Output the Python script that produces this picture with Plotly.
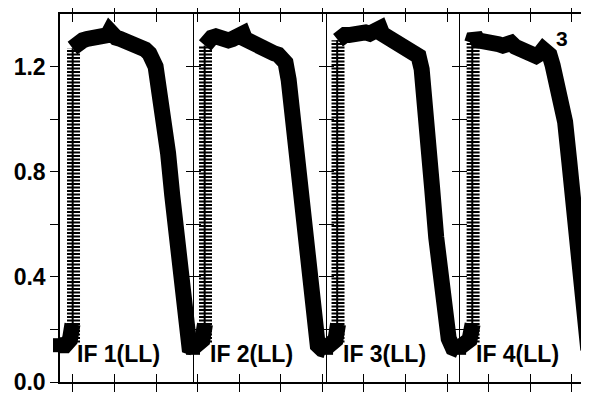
import plotly.graph_objects as go

# ---- data (local channel within each IF, amplitude) ----
if_labels = ["IF 1(LL)", "IF 2(LL)", "IF 3(LL)", "IF 4(LL)"]
n_chan = 128

if1_chan = [0, 5, 9.5, 12, None, 12, 14, 18, 22, 26, 30, 34, 38, 42, 46, 48, 50, 54, 58, 62, 66, 70, 74, 78, 82, 86, 89, 92, 96, 100, 104, 108, 112, 116, 119, 121.5, 124.5, 128]
if1_amp = [0.14, 0.14, 0.16, 0.22, None, 1.27, 1.28, 1.29, 1.30, 1.305, 1.31, 1.31, 1.315, 1.31, 1.32, 1.335, 1.32, 1.31, 1.305, 1.30, 1.29, 1.285, 1.28, 1.275, 1.265, 1.25, 1.23, 1.20, 1.09, 1.00, 0.87, 0.71, 0.56, 0.38, 0.25, 0.17, 0.135, 0.13]

if2_chan = [0, 5, 9, 11.5, None, 11.5, 14, 18, 22, 26, 30, 34, 38, 42, 46, 48, 50, 54, 58, 62, 66, 70, 74, 78, 82, 86, 89, 92, 96, 100, 104, 108, 112, 116, 120, 124, 128]
if2_amp = [0.13, 0.14, 0.16, 0.22, None, 1.28, 1.30, 1.31, 1.315, 1.305, 1.30, 1.30, 1.305, 1.31, 1.315, 1.325, 1.305, 1.295, 1.285, 1.28, 1.27, 1.265, 1.255, 1.25, 1.245, 1.235, 1.215, 1.15, 1.01, 0.85, 0.70, 0.54, 0.39, 0.205, 0.14, 0.125, 0.12]

if3_chan = [0, 5, 9, 11.5, None, 11.5, 14, 18, 22, 26, 30, 34, 38, 42, 46, 50, 52, 54, 58, 62, 66, 70, 74, 78, 82, 86, 89, 92, 95, 98, 102, 106, 110, 114, 118, 122, 128]
if3_amp = [0.13, 0.14, 0.16, 0.22, None, 1.30, 1.315, 1.32, 1.32, 1.325, 1.32, 1.325, 1.33, 1.325, 1.33, 1.335, 1.345, 1.325, 1.315, 1.30, 1.295, 1.285, 1.28, 1.275, 1.265, 1.255, 1.24, 1.19, 1.09, 0.96, 0.74, 0.55, 0.38, 0.25, 0.165, 0.13, 0.12]

if4_chan = [0, 5, 10, 13, None, 12.5, 15, 18, 22, 26, 30, 34, 38, 42, 46, 50, 54, 58, 62, 66, 70, 74, 78, 81, 84, 87, 90, 94, 98, 102, 106, 110, 114, 118, 121, 124, 128]
if4_amp = [0.13, 0.14, 0.16, 0.22, None, 1.29, 1.32, 1.30, 1.30, 1.295, 1.29, 1.29, 1.285, 1.28, 1.285, 1.29, 1.275, 1.265, 1.26, 1.25, 1.245, 1.24, 1.25, 1.265, 1.255, 1.245, 1.205, 1.14, 1.07, 0.99, 0.84, 0.66, 0.50, 0.30, 0.18, 0.135, 0.12]

# rising edge of each IF (channel, bottom, top)
rise_chan = [13, 12, 11.5, 13.5]
rise_low = [0.15, 0.15, 0.15, 0.15]
rise_high = [1.27, 1.28, 1.30, 1.29]

y_tickvals = [0.0, 0.2, 0.4, 0.6, 0.8, 1.0, 1.2]
y_ticktext = ["0.0", "", "0.4", "", "0.8", "", "1.2"]
corner_label = "3"

chans = [if1_chan, if2_chan, if3_chan, if4_chan]
amps = [if1_amp, if2_amp, if3_amp, if4_amp]

X_MAX = 509
FONT = "Liberation Sans, Arial, sans-serif"

fig = go.Figure()

for k in range(4):
    off = k * n_chan
    xs = [None if c is None else c + off for c in chans[k]]
    # striped rising edge
    fig.add_trace(go.Scatter(
        x=[rise_chan[k] + off, rise_chan[k] + off],
        y=[rise_low[k], rise_high[k]],
        mode="lines", line=dict(color="black", width=13, dash="2px,1.5px"),
        hoverinfo="skip"))
    fig.add_trace(go.Scatter(
        x=[rise_chan[k] + off - 0.8, rise_chan[k] + off - 0.8],
        y=[rise_low[k], rise_high[k]],
        mode="lines", line=dict(color="black", width=2),
        hoverinfo="skip"))
    fig.add_trace(go.Scatter(
        x=xs, y=amps[k], mode="lines",
        line=dict(color="black", width=16),
        connectgaps=False, hoverinfo="skip"))
    # first sample of each IF, drawn unclipped
    fig.add_trace(go.Scatter(
        x=[xs[0]], y=[amps[k][0]], mode="markers", cliponaxis=False,
        marker=dict(symbol="square", size=14, color="black"),
        hoverinfo="skip"))

# axes for IF separators (crossing ticks)
sep_axes = {}
axis_n = 2
for k in range(1, 4):
    pos = k * n_chan / X_MAX
    for side in ("left", "right"):
        name = f"yaxis{axis_n}"
        sep_axes[name] = dict(
            overlaying="y", anchor="free", position=pos, side=side,
            range=[0, 1.4], tickvals=y_tickvals[1:], showticklabels=False,
            ticks="outside", ticklen=7, tickwidth=1.2, tickcolor="black",
            showline=True, linecolor="black", linewidth=1.2,
            showgrid=False, zeroline=False)
        fig.add_trace(go.Scatter(x=[None], y=[None], yaxis=f"y{axis_n}",
                                 showlegend=False, hoverinfo="skip"))
        axis_n += 1
# partial right-edge ticks
sep_axes[f"yaxis{axis_n}"] = dict(
    overlaying="y", anchor="free", position=1.0, side="left",
    range=[0, 1.4], tickvals=y_tickvals[1:], showticklabels=False,
    ticks="outside", ticklen=4, tickwidth=1.2, tickcolor="black",
    showline=False, showgrid=False, zeroline=False)
fig.add_trace(go.Scatter(x=[None], y=[None], yaxis=f"y{axis_n}",
                         showlegend=False, hoverinfo="skip"))

annotations = []
for k in range(4):
    annotations.append(dict(
        x=k * n_chan + 14, y=0.105, xref="x", yref="y", text=if_labels[k],
        showarrow=False, xanchor="left", yanchor="middle",
        font=dict(family=FONT, size=23, color="black", weight="bold")))
annotations.append(dict(
    x=483, y=1.306, xref="x", yref="y", text=corner_label, showarrow=False,
    xanchor="center", yanchor="middle",
    font=dict(family=FONT, size=21, color="black", weight="bold")))

# page body has an 8px margin: size the figure so the plot lands where it should
fig.update_layout(
    width=581, height=387,
    margin=dict(l=52, r=0, t=6, b=10),
    paper_bgcolor="white", plot_bgcolor="white",
    showlegend=False,
    xaxis=dict(range=[0, X_MAX], tick0=12.5, dtick=40, ticks="inside",
               ticklen=8, tickwidth=1.2, tickcolor="black",
               showline=True, linecolor="black", linewidth=1.5,
               mirror="allticks", showticklabels=False,
               showgrid=False, zeroline=False),
    yaxis=dict(range=[0, 1.4], tickvals=y_tickvals, ticktext=y_ticktext,
               ticks="outside", ticklen=8, tickwidth=1.2, tickcolor="black",
               showline=True, linecolor="black", linewidth=1.5,
               showgrid=False, zeroline=False, ticklabeloverflow="allow",
               tickfont=dict(family=FONT, size=23, color="black", weight="bold")),
    annotations=annotations,
    **sep_axes,
)

fig.write_html("out.html")
